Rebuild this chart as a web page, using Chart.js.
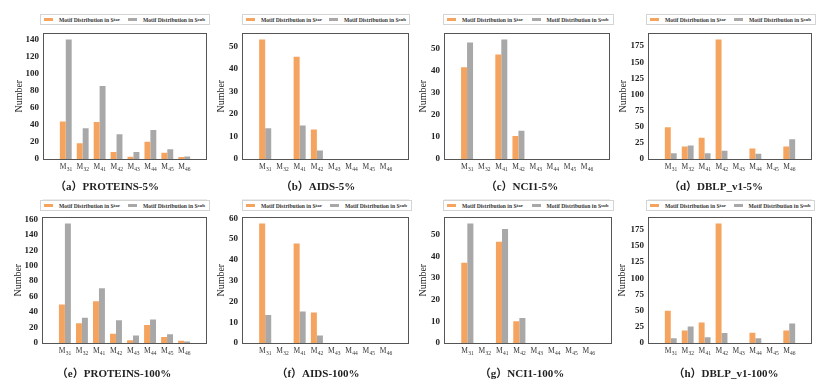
<!DOCTYPE html>
<html>
<head>
<meta charset="utf-8">
<script src="https://cdn.jsdelivr.net/npm/chart.js@4.4.0/dist/chart.umd.min.js"></script>
<style>
  body { margin: 0; background: #fff; }
  #page { position: relative; width: 831px; height: 392px; overflow: hidden; background: #fff; }
  .panel { position: absolute; }
  .legend {
    position: absolute; height: 11px; box-sizing: border-box;
    border: 1px solid #d4d4d4; background: #fff;
    display: flex; align-items: center; white-space: nowrap;
    font: bold 5.6px 'Liberation Serif', serif; color: #333;
  }
  .legend .sw { display: inline-block; width: 9px; height: 3px; margin: 0 6px 0 3px; }
  .legend .item { display: flex; align-items: center; flex: 1; }
  .legend sub { font-size: 5px; vertical-align: -1.5px; }
  .caption {
    position: absolute; transform: translateX(-50%); white-space: nowrap;
    font: bold 11px 'Liberation Serif', 'Noto Sans CJK SC', serif; color: #222;
  }
  .sep { position: absolute; height: 1px; background: #ececec; }
</style>
</head>
<body>
<div id="page"></div>
<script>
// ---- data ----
// motif names: letter + subscript index
const categories = ['M31', 'M32', 'M41', 'M42', 'M43', 'M44', 'M45', 'M46'];

const proteins5Tar = [44, 18.4, 43.3, 8.3, 2.6, 20.3, 7.2, 2.3];
const proteins5Sub = [140, 36, 85.4, 29, 8.3, 33.9, 11.3, 3];
const aids5Tar = [53, 0, 45.3, 13.1, 0, 0, 0, 0];
const aids5Sub = [13.6, 0, 14.9, 3.8, 0, 0, 0, 0];
const nci5Tar = [41.4, 0, 47.2, 10.4, 0, 0, 0, 0];
const nci5Sub = [52.6, 0, 54, 12.7, 0, 0, 0, 0];
const dblp5Tar = [49.2, 19.4, 32.8, 185.5, 0, 16.4, 0, 19.4];
const dblp5Sub = [9, 20.9, 9, 12.9, 0, 8, 0, 30.8];

const proteins100Tar = [49.9, 25.4, 54, 12, 3.7, 23.3, 7.9, 2.9];
const proteins100Sub = [154.6, 32.8, 70.7, 29.5, 9.6, 30.3, 11.2, 2];
const aids100Tar = [57.5, 0, 47.9, 14.7, 0, 0, 0, 0];
const aids100Sub = [13.5, 0, 15.2, 3.6, 0, 0, 0, 0];
const nci100Tar = [37.1, 0, 46.7, 10.1, 0, 0, 0, 0];
const nci100Sub = [55.2, 0, 52.7, 11.6, 0, 0, 0, 0];
const dblp100Tar = [49.7, 19.4, 31.8, 184.5, 0, 15.9, 0, 19.4];
const dblp100Sub = [7.5, 25.4, 9, 15.4, 0, 7.5, 0, 30.3];

const captions = ['（a）PROTEINS-5%', '（b）AIDS-5%', '（c）NCI1-5%', '（d）DBLP_v1-5%',
                  '（e）PROTEINS-100%', '（f）AIDS-100%', '（g）NCI1-100%', '（h）DBLP_v1-100%'];
const tarSeries = [proteins5Tar, aids5Tar, nci5Tar, dblp5Tar, proteins100Tar, aids100Tar, nci100Tar, dblp100Tar];
const subSeries = [proteins5Sub, aids5Sub, nci5Sub, dblp5Sub, proteins100Sub, aids100Sub, nci100Sub, dblp100Sub];
const yMax = [147, 55.7, 56.7, 194.8, 162.5, 60.4, 58, 194];
const yStep = [20, 10, 10, 25, 20, 10, 10, 25];

// ---- layout: plot frame [left, top, right, bottom] on the page ----
const frames = [
    [43, 28, 207, 159], [242, 28, 409, 159], [444, 28, 610, 159], [648, 28, 812, 159],
    [42, 212, 207, 343], [242, 212, 409, 343], [444, 212, 612, 343], [648, 212, 812, 343]
];
const titleGap = [24, 21, 21, 25, 24, 21, 21, 26];   // distance of "Number" from the frame
const captionX = [107, 318, 522, 716, 114, 318, 522, 726];
const legendBox = [[40, 210], [242, 410], [443, 614], [646, 816], [40, 210], [242, 412], [443, 614], [646, 815]];

const ORANGE = '#f5a45f';
const GREY = '#a8a8a8';
const AXIS_W = 40, XLAB_H = 20, PAD = 4;
const SERIF = "'Liberation Serif', 'DejaVu Serif', serif";

// draw the full box around the plot area
const framePlugin = {
    id: 'frame',
    afterDraw(chart) {
        const { ctx, chartArea: a } = chart;
        ctx.save();
        ctx.strokeStyle = '#555';
        ctx.lineWidth = 1;
        ctx.strokeRect(Math.round(a.left) + 0.5, Math.round(a.top) + 0.5,
                       Math.round(a.right - a.left) - 1, Math.round(a.bottom - a.top));
        ctx.restore();
    }
};

// x tick labels with a subscript index (M + 31 lowered)
const subLabelPlugin = {
    id: 'subLabels',
    afterDraw(chart) {
        const { ctx } = chart;
        const xs = chart.scales.x;
        const baseY = chart.chartArea.bottom + 10;
        ctx.save();
        ctx.fillStyle = '#333';
        ctx.textBaseline = 'alphabetic';
        categories.forEach((name, k) => {
            const head = name.charAt(0), idx = name.slice(1);
            ctx.font = '7.5px ' + SERIF;
            const wh = ctx.measureText(head).width;
            ctx.font = '5.5px ' + SERIF;
            const wi = ctx.measureText(idx).width;
            const x0 = xs.getPixelForValue(k) - (wh + wi) / 2;
            ctx.font = '7.5px ' + SERIF;
            ctx.fillText(head, x0, baseY);
            ctx.font = '5.5px ' + SERIF;
            ctx.fillText(idx, x0 + wh + 0.3, baseY + 1.8);
        });
        ctx.restore();
    }
};

const page = document.getElementById('page');

function addLegend(i) {
    const [x0, x1] = legendBox[i];
    const top = i < 4 ? 14 : 200;
    const lg = document.createElement('div');
    lg.className = 'legend';
    lg.style.left = x0 + 'px';
    lg.style.top = top + 'px';
    lg.style.width = (x1 - x0) + 'px';
    lg.innerHTML =
        '<span class="item"><span class="sw" style="background:' + ORANGE + '"></span>Motif Distribution in S<sub>tar</sub></span>' +
        '<span class="item"><span class="sw" style="background:' + GREY + '"></span>Motif Distribution in S<sub>sub</sub></span>';
    page.appendChild(lg);
}

function addCaption(i) {
    const cap = document.createElement('div');
    cap.className = 'caption';
    cap.textContent = captions[i];
    cap.style.left = captionX[i] + 'px';
    cap.style.top = (i < 4 ? 177 : 364) + 'px';
    page.appendChild(cap);
    if (i < 4) {
        const sep = document.createElement('div');
        sep.className = 'sep';
        sep.style.left = frames[i][0] + 'px';
        sep.style.width = (frames[i][2] - frames[i][0]) + 'px';
        sep.style.top = '199px';
        page.appendChild(sep);
    }
}

function renderPanel(i) {
    const [L, T, R, B] = frames[i];
    const box = document.createElement('div');
    box.className = 'panel';
    const w = (R - L) + AXIS_W + PAD;
    const h = (B - T) + XLAB_H + PAD;
    box.style.left = (L - AXIS_W) + 'px';
    box.style.top = (T - PAD) + 'px';
    box.style.width = w + 'px';
    box.style.height = h + 'px';
    const canvas = document.createElement('canvas');
    box.appendChild(canvas);
    page.appendChild(box);

    const toPoints = vals => vals.map((v, k) => ({ x: k, y: v }));

    new Chart(canvas.getContext('2d'), {
        type: 'bar',
        data: {
            datasets: [
                { label: 'Motif Distribution in S_tar', data: toPoints(tarSeries[i]), backgroundColor: ORANGE, borderWidth: 0 },
                { label: 'Motif Distribution in S_sub', data: toPoints(subSeries[i]), backgroundColor: GREY, borderWidth: 0 }
            ]
        },
        options: {
            responsive: true,
            maintainAspectRatio: false,
            animation: false,
            categoryPercentage: 0.7,
            barPercentage: 1.0,
            layout: { padding: { top: PAD, right: PAD, left: 0, bottom: 0 } },
            plugins: { legend: { display: false }, tooltip: { enabled: false } },
            scales: {
                x: {
                    type: 'linear',
                    min: -0.74,
                    max: categories.length - 1 + 0.74,
                    afterBuildTicks: axis => { axis.ticks = categories.map((c, k) => ({ value: k })); },
                    afterFit: s => { s.height = XLAB_H; },
                    grid: { display: false, drawTicks: false },
                    border: { display: false },
                    ticks: { display: false }
                },
                y: {
                    min: 0,
                    max: yMax[i],
                    afterFit: s => { s.width = AXIS_W; },
                    grid: { display: false, drawTicks: false },
                    border: { display: false },
                    ticks: {
                        stepSize: yStep[i],
                        includeBounds: false,
                        padding: 4,
                        color: '#222',
                        font: { family: SERIF, size: 9, weight: 'bold' }
                    },
                    title: {
                        display: true,
                        text: 'Number',
                        color: '#222',
                        font: { family: SERIF, size: 10 },
                        padding: { top: Math.max(0, AXIS_W - titleGap[i] - 6), bottom: 0 }
                    }
                }
            }
        },
        plugins: [framePlugin, subLabelPlugin]
    });
}

for (let i = 0; i < frames.length; i++) {
    renderPanel(i);
    addLegend(i);
    addCaption(i);
}
</script>
</body>
</html>
